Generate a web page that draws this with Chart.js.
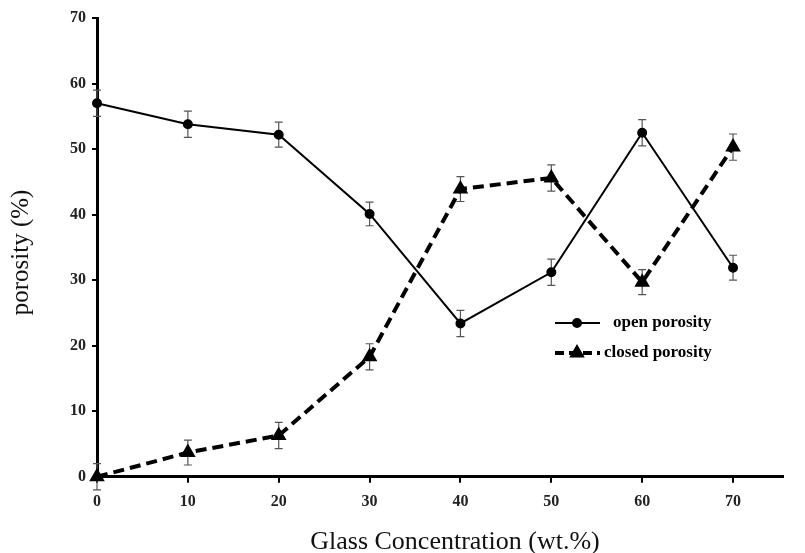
<!DOCTYPE html>
<html>
<head>
<meta charset="utf-8">
<script src="https://cdn.jsdelivr.net/npm/chart.js@4.4.0/dist/chart.umd.min.js"></script>
<style>
  body { margin: 0; background: #fff; }
  #wrap { width: 805px; height: 553px; }
</style>
</head>
<body>
<div id="wrap"><canvas id="porosity" width="805" height="553"></canvas></div>
<script>
const glass = [0, 10, 20, 30, 40, 50, 60, 70]
const openPorosity = [57, 53.8, 52.2, 40.1, 23.4, 31.2, 52.5, 31.9]
const closedPorosity = [0, 3.7, 6.3, 18.3, 43.9, 45.6, 29.7, 50.3]
const openErr = [2, 2, 1.9, 1.8, 2, 2, 2, 1.9]
const closedErr = [2, 1.9, 2, 2, 1.9, 2, 1.9, 2]
const xTicks = [0, 10, 20, 30, 40, 50, 60, 70]
const xTitle = 'Glass Concentration (wt.%)'
const yTitle = 'porosity (%)'

const serif = '"Liberation Serif", "Times New Roman", serif'

const toPoints = (vals) => glass.map((g, i) => ({ x: g, y: vals[i] }))

// gray error bars with caps
const errorBars = {
    id: 'errorBars',
    beforeDatasetsDraw(chart) {
        const { ctx, scales: { x, y } } = chart
        const sets = [[openPorosity, openErr], [closedPorosity, closedErr]]
        ctx.save()
        ctx.strokeStyle = '#555'
        ctx.lineWidth = 1.2
        sets.forEach(([vals, errs]) => {
            vals.forEach((v, i) => {
                const px = x.getPixelForValue(glass[i])
                const top = y.getPixelForValue(v + errs[i])
                const bot = y.getPixelForValue(Math.max(v - errs[i], -2))
                ctx.beginPath()
                ctx.moveTo(px, top); ctx.lineTo(px, bot)
                ctx.moveTo(px - 4, top); ctx.lineTo(px + 4, top)
                ctx.moveTo(px - 4, bot); ctx.lineTo(px + 4, bot)
                ctx.stroke()
            })
        })
        ctx.restore()
    }
}

// axis titles, placed like the original (x title sits a bit right of centre)
const axisTitles = {
    id: 'axisTitles',
    afterDraw(chart) {
        const { ctx, chartArea } = chart
        ctx.save()
        ctx.fillStyle = '#111'
        ctx.textAlign = 'center'
        ctx.textBaseline = 'alphabetic'
        ctx.font = '26px ' + serif
        ctx.fillText(xTitle, (chartArea.left + chartArea.right) / 2 + 15, 549)
        ctx.translate(28, (chartArea.top + chartArea.bottom) / 2 + 5)
        ctx.rotate(-Math.PI / 2)
        ctx.font = '25px ' + serif
        ctx.fillText(yTitle, 0, 0)
        ctx.restore()
    }
}

// legend drawn inside the plot area
const innerLegend = {
    id: 'innerLegend',
    afterDraw(chart) {
        const { ctx } = chart
        const items = [
            { label: 'open porosity', dash: [], width: 2, style: 'circle', r: 4, y: 323 },
            { label: 'closed porosity', dash: [9, 5], width: 4, style: 'triangle', r: 5, y: 353 }
        ]
        ctx.save()
        items.forEach(it => {
            ctx.strokeStyle = '#000'
            ctx.fillStyle = '#000'
            ctx.lineWidth = it.width
            ctx.setLineDash(it.dash)
            ctx.beginPath()
            ctx.moveTo(555, it.y); ctx.lineTo(600, it.y)
            ctx.stroke()
            ctx.setLineDash([])
            Chart.helpers.drawPoint(ctx, { pointStyle: it.style, radius: it.r, borderWidth: 1 }, 577, it.y)
            ctx.font = 'bold 17px ' + serif
            ctx.textBaseline = 'middle'
            ctx.fillText(it.label, it.style === 'circle' ? 613 : 604, it.y)
        })
        ctx.restore()
    }
}

new Chart(document.getElementById('porosity').getContext('2d'), {
    type: 'line',
    data: {
        datasets: [
            {
                label: 'open porosity',
                data: toPoints(openPorosity),
                borderColor: '#000',
                backgroundColor: '#000',
                borderWidth: 2,
                pointStyle: 'circle',
                pointRadius: 4,
                tension: 0,
                clip: false
            },
            {
                label: 'closed porosity',
                data: toPoints(closedPorosity),
                borderColor: '#000',
                backgroundColor: '#000',
                borderWidth: 4,
                borderDash: [11, 6],
                pointStyle: 'triangle',
                pointRadius: 5,
                tension: 0,
                clip: false
            }
        ]
    },
    options: {
        responsive: false,
        animation: false,
        layout: { padding: { left: 64, right: 22, top: 18, bottom: 33 } },
        plugins: {
            legend: { display: false },
            tooltip: { enabled: false }
        },
        scales: {
            x: {
                type: 'linear',
                min: 0,
                max: 75.5,
                afterBuildTicks: (axis) => { axis.ticks = xTicks.map(v => ({ value: v })) },
                border: { color: '#000', width: 3 },
                grid: { drawOnChartArea: false, color: '#000', tickLength: 6, lineWidth: 2 },
                ticks: { color: '#222', padding: 9, font: { family: serif, size: 16, weight: 'bold' } }
            },
            y: {
                min: 0,
                max: 70,
                ticks: { stepSize: 10, color: '#222', padding: 6, font: { family: serif, size: 16, weight: 'bold' } },
                border: { color: '#000', width: 3 },
                grid: { drawOnChartArea: false, color: '#000', tickLength: 5, lineWidth: 2 }
            }
        }
    },
    plugins: [errorBars, axisTitles, innerLegend]
})
</script>
</body>
</html>
